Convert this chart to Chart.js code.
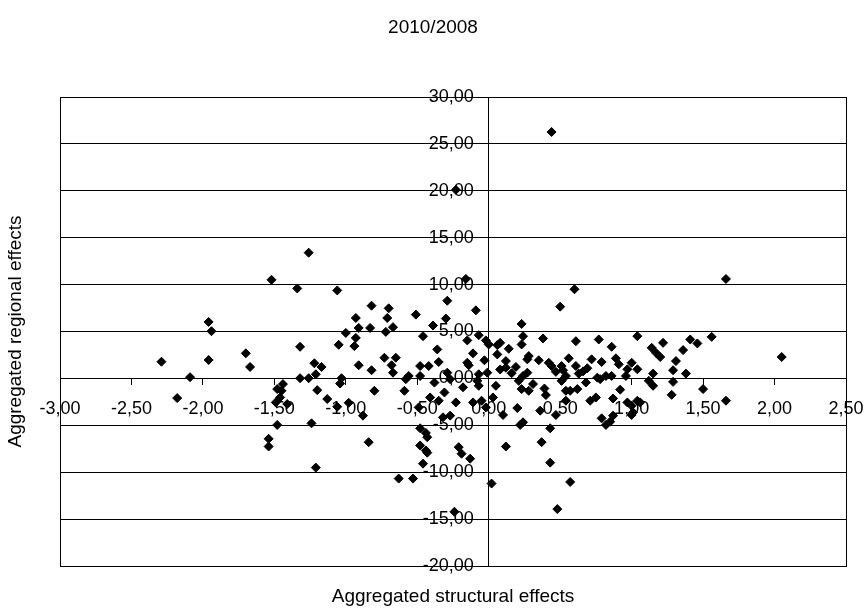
<!DOCTYPE html>
<html>
<head>
<meta charset="utf-8">
<script src="https://cdn.jsdelivr.net/npm/chart.js@4.4.1/dist/chart.umd.min.js"></script>
<style>
  body { margin: 0; background: #fff; }
  #chart { display: block; }
</style>
</head>
<body>
<canvas id="chart" width="867" height="613"></canvas>
<script>
const chartTitle = '2010/2008';
const xTitle = 'Aggregated structural effects';
const yTitle = 'Aggregated regional effects';

// x = aggregated structural effect, y = aggregated regional effect (same index = same region)
const structuralEffects = [
  -1.26, -1.52, -1.34, -1.06, -1.96, -1.94, -1.00, -1.32, -1.05, -2.29,
  -1.96, -1.70, -1.67, -2.09, -1.32, -1.26, -1.22, -1.17, -1.21, -1.03,
  -1.04, -1.44, -2.18, -1.48, -1.45, -1.46, -1.49, -1.41, -1.20, -1.13,
  -1.06, -1.48, -1.24, -1.54, -1.54, -1.21, -0.23, -0.16, -0.29, -0.09,
  -0.30, -0.82, -0.70, -0.71, -0.51, -0.93, -0.91, -0.83, -0.67, -0.72,
  -0.39, -0.46, -0.93, -0.94, -0.36, -0.35, -0.07, -0.15, -0.02, 0.00,
  -0.11, -0.03, -0.15, -0.14, -0.01, 0.06, 0.06, -0.73, -0.65, -0.68,
  -0.67, -0.91, -0.82, -0.48, -0.42, -0.48, -0.56, -0.58, -0.29, -0.27,
  -0.07, -0.08, -0.80, -0.59, -0.41, -0.35, -0.31, -0.49, -0.23, -0.11,
  -0.05, -0.02, 0.03, -0.07, 0.05, -0.88, -0.32, -0.27, -0.48, -0.44,
  -0.43, -0.84, -0.48, -0.44, -0.43, -0.21, -0.19, -0.13, -0.46, -0.63,
  -0.53, 0.02, -0.24, 0.60, 0.50, 0.23, 0.24, 0.38, 0.61, 0.77,
  0.86, 1.04, 0.08, 0.14, 0.23, 0.12, 0.12, 0.19, 0.27, 0.28,
  0.35, 0.42, 0.44, 0.51, 0.56, 0.61, 0.63, 0.69, 0.72, 0.79,
  0.89, 0.91, 1.00, 1.04, 0.97, 0.96, 0.24, 0.27, 0.54, 0.52,
  0.76, 0.82, 0.86, 0.10, 0.21, 0.23, 0.28, 0.20, 0.22, 0.24,
  0.39, 0.40, 0.36, 0.47, 0.43, 0.37, 0.12, 0.43, 0.57, 0.48,
  0.51, 0.54, 0.57, 0.54, 0.62, 0.68, 0.71, 0.75, 0.78, 0.87,
  0.97, 0.79, 0.82, 0.85, 0.87, 1.01, 1.00, 1.04, 1.66, 1.22,
  1.41, 1.46, 1.56, 1.36, 1.14, 1.17, 1.20, 1.31, 1.29, 1.38,
  1.15, 2.05, 1.29, 1.12, 1.15, 1.28, 1.50, 1.66, 1.06, 1.00,
  0.44, 0.16, 0.31, 0.47, -0.18, -0.38, 0.66, 0.92, -0.98, 0.08
];
const regionalEffects = [
  13.40, 10.51, 9.59, 9.38, 6.02, 5.03, 4.85, 3.37, 3.58, 1.78,
  1.96, 2.67, 1.22, 0.13, 0.02, 0.02, 1.61, 1.22, 0.44, 0.02,
  -0.55, -0.61, -2.10, -1.14, -1.32, -2.03, -2.56, -2.73, -1.25, -2.20,
  -3.02, -4.96, -4.79, -6.44, -7.26, -9.51, 20.10, 10.61, 8.28, 7.26,
  6.38, 7.75, 7.47, 6.44, 6.80, 6.44, 5.38, 5.38, 5.46, 4.96,
  5.64, 4.50, 4.32, 3.44, 3.09, 1.75, 4.61, 4.05, 4.05, 3.62,
  2.67, 1.93, 1.67, 1.40, 0.61, 3.55, 2.56, 2.20, 2.20, 1.40,
  0.61, 1.40, 0.87, 1.32, 1.32, 0.26, 0.26, -0.08, 0.61, -0.08,
  0.44, -0.26, -1.32, -1.32, -2.03, -2.38, -1.50, -3.09, -2.56, -2.56,
  -2.38, -3.09, -2.03, -0.79, -0.79, -3.97, -4.15, -3.97, -5.32, -5.81,
  -6.27, -6.80, -7.15, -7.68, -7.92, -7.33, -8.03, -8.56, -9.09, -10.68,
  -10.68, -11.21, -14.22, 9.50, 7.65, 5.81, 4.50, 4.26, 3.97, 4.15,
  3.37, 4.50, 3.79, 3.16, 3.62, 1.85, 1.14, 1.22, 2.03, 2.38,
  1.93, 1.67, 1.32, 1.32, 2.14, 1.32, 0.51, 1.08, 2.03, 1.75,
  2.14, 1.50, 1.67, 0.97, 0.97, 0.26, 0.26, 0.61, 0.26, 0.87,
  0.08, 0.26, 0.26, -3.90, -0.26, -1.14, -1.32, -3.16, -4.96, -4.68,
  -1.08, -1.78, -3.44, -3.90, -5.32, -6.80, -7.26, -8.98, -11.04, -13.93,
  -0.26, -1.32, -1.32, -2.38, -1.14, -0.44, -2.38, -2.03, -0.08, -2.14,
  -2.56, -4.26, -4.96, -4.61, -3.97, -3.62, -2.91, -2.38, 10.60, 3.79,
  4.15, 3.73, 4.43, 3.02, 3.26, 2.73, 2.28, 1.85, 0.87, 0.51,
  0.51, 2.28, -0.37, -0.26, -0.79, -1.75, -1.14, -2.38, -2.56, -3.90,
  26.27, 0.55, -0.60, 0.70, -0.95, -0.45, 0.75, -1.20, -2.60, 0.95
];

const xMin = -3, xMax = 2.5, xStep = 0.5;
const yMin = -20, yMax = 30, yStep = 5;

const fontFamily = '"Liberation Sans", Arial, sans-serif';

function fmt(v) {
  return Number(v).toFixed(2).replace('.', ',');
}

const points = structuralEffects.map((x, i) => ({ x: x, y: regionalEffects[i] }));

// frame around the plot area + the three titles
const framePlugin = {
  id: 'frame',
  afterDraw(chart) {
    const { ctx, chartArea: a } = chart;
    ctx.save();
    ctx.strokeStyle = '#000';
    ctx.lineWidth = 1;
    ctx.strokeRect(Math.round(a.left) + 0.5, Math.round(a.top) + 0.5,
      Math.round(a.right - a.left), Math.round(a.bottom - a.top));

    ctx.fillStyle = '#000';
    ctx.textAlign = 'center';
    ctx.textBaseline = 'middle';
    ctx.font = '19px ' + fontFamily;
    ctx.fillText(chartTitle, 433, 28);
    // axis titles are centred on the plot area
    ctx.fillText(xTitle, (a.left + a.right) / 2, 597);
    ctx.translate(16, (a.top + a.bottom) / 2);
    ctx.rotate(-Math.PI / 2);
    ctx.fillText(yTitle, 0, 0);
    ctx.restore();
  }
};

new Chart(document.getElementById('chart'), {
  type: 'scatter',
  data: {
    datasets: [{
      label: 'Regions',
      data: points,
      pointStyle: 'rectRot',
      pointRadius: 4.5,
      pointHoverRadius: 4.5,
      pointBackgroundColor: '#000',
      pointBorderColor: '#000',
      pointBorderWidth: 1
    }]
  },
  options: {
    responsive: false,
    animation: false,
    layout: { padding: { left: 60, top: 97, right: 21, bottom: 47 } },
    plugins: {
      legend: { display: false },
      tooltip: { enabled: false },
      title: { display: false }
    },
    scales: {
      x: {
        type: 'linear',
        min: xMin,
        max: xMax,
        position: { y: 0 },
        grid: { drawOnChartArea: false, drawTicks: true, tickLength: 6, color: '#000' },
        border: { display: true, color: '#000', width: 1 },
        ticks: {
          stepSize: xStep,
          padding: 2,
          color: '#000',
          // tall line height drops the labels below the axis without widening the layout padding
          font: { family: fontFamily, size: 18, lineHeight: 2.55 },
          maxRotation: 0,
          autoSkip: false,
          callback: v => fmt(v)
        }
      },
      y: {
        type: 'linear',
        min: yMin,
        max: yMax,
        position: { x: 0 },
        grid: { drawOnChartArea: true, drawTicks: true, tickLength: 5, color: '#000', lineWidth: 1 },
        border: { display: true, color: '#000', width: 1 },
        ticks: {
          stepSize: yStep,
          color: '#000',
          font: { family: fontFamily, size: 18 },
          autoSkip: false,
          // trailing spaces keep the labels clear of the axis line
          callback: v => fmt(v) + '   '
        }
      }
    }
  },
  plugins: [framePlugin]
});
</script>
</body>
</html>
